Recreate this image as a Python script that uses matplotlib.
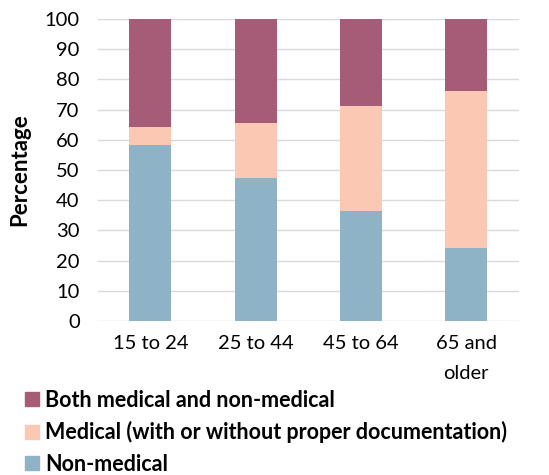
import matplotlib.pyplot as plt
import numpy as np
from matplotlib.patches import Patch

# values (percent)
age_groups = ["15 to 24", "25 to 44", "45 to 64", "65 and\nolder"]
non_medical = [58.4, 47.5, 36.5, 24.3]
medical = [5.9, 18.2, 34.7, 51.9]
both = [35.7, 34.3, 28.8, 23.8]

labels = [
    "Both medical and non-medical",
    "Medical (with or without proper documentation)",
    "Non-medical",
]
colors = ["#A65C76", "#FBC8B4", "#8FB3C6"]

plt.rcParams["font.family"] = ["Lato", "DejaVu Sans"]

fig = plt.figure(figsize=(5.49, 4.75), dpi=100)
ax = fig.add_axes([0.178, 0.324, 0.767, 0.636])

x = np.arange(len(age_groups))
w = 0.4
bottom2 = np.array(non_medical) + np.array(medical)
ax.bar(x, non_medical, w, color=colors[2], zorder=2)
ax.bar(x, medical, w, bottom=non_medical, color=colors[1], zorder=2)
ax.bar(x, both, w, bottom=bottom2, color=colors[0], zorder=2)

ax.set_xlim(-0.5, 3.5)
ax.set_ylim(0, 100)
ax.set_yticks(range(0, 101, 10))
ax.grid(axis="y", color="#D9D9D9", linewidth=1, zorder=0)
for s in ax.spines.values():
    s.set_visible(False)
ax.tick_params(length=0, labelsize=14.5, colors="#000000")
ax.tick_params(axis="y", pad=13)
ax.tick_params(axis="x", pad=10)
ax.set_xticks(x)
ax.set_xticklabels(age_groups, linespacing=1.95)
ax.set_ylabel("Percentage", fontsize=16, fontweight="bold", labelpad=10)

handles = [Patch(color=c, label=l) for c, l in zip(colors, labels)]
fig.legend(handles=handles, loc="upper left", bbox_to_anchor=(25 / 549, 1 - 390 / 475),
           frameon=False, prop={"size": 15.5, "weight": "bold"},
           handlelength=0.63, handleheight=0.63, handletextpad=0.3,
           labelspacing=0.48, borderaxespad=0, borderpad=0)

fig.savefig("out.png", dpi=100)
